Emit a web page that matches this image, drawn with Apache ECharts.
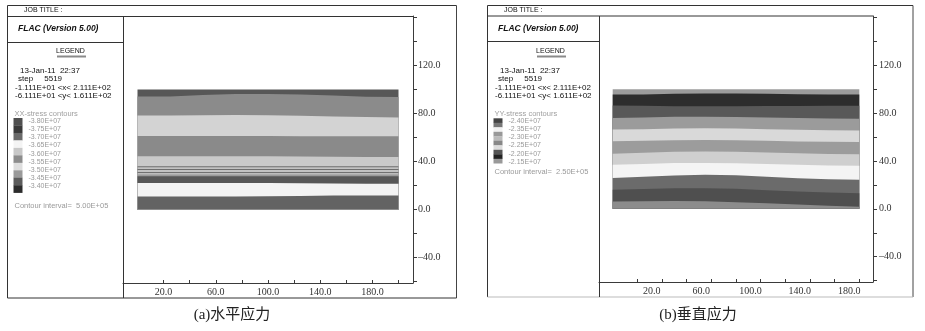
<!DOCTYPE html>
<html><head><meta charset="utf-8">
<script src="https://cdn.jsdelivr.net/npm/echarts@6/dist/echarts.min.js"></script>
<style>html,body{margin:0;padding:0;background:#fff}#c{width:925px;height:331px}</style>
</head><body><div id="c"></div>
<script>
// mesh x positions where band boundaries are sampled
const meshX = [0, 25, 50, 75, 100, 125, 150, 175, 200];

// (a) XX-stress band upper boundaries (top to bottom)
const xxTop    = [100, 100, 100, 100, 100, 100, 100, 100, 100];
const xxB01    = [94.2, 94.2, 95.4, 96.2, 96.2, 95.8, 95.0, 94.0, 93.7];
const xxB02    = [78.2, 78.4, 78.6, 78.8, 78.6, 78.0, 77.4, 77.0, 76.6];
const xxB03    = [61.2, 61.2, 61.2, 61.2, 61.2, 61.1, 61.0, 61.0, 61.0];
const xxB04    = [44.4, 44.4, 44.4, 44.4, 44.3, 44.2, 44.0, 43.8, 43.8];
const xxB05    = [36.1, 36.1, 36.1, 36.1, 36.1, 36.1, 36.1, 36.1, 36.1];
const xxB06    = [35.2, 35.2, 35.2, 35.2, 35.2, 35.2, 35.2, 35.2, 35.2];
const xxB07    = [33.8, 33.8, 33.8, 33.8, 33.8, 33.8, 33.8, 33.8, 33.8];
const xxB08    = [33.0, 33.0, 33.0, 33.0, 33.0, 33.0, 33.0, 33.0, 33.0];
const xxB09    = [31.3, 31.3, 31.3, 31.3, 31.3, 31.3, 31.3, 31.3, 31.3];
const xxB10    = [30.4, 30.4, 30.4, 30.4, 30.4, 30.4, 30.4, 30.4, 30.4];
const xxB11    = [29.1, 29.1, 29.1, 29.1, 29.1, 29.1, 29.1, 29.1, 29.1];
const xxB12    = [27.7, 27.7, 27.7, 27.7, 27.7, 27.7, 27.7, 27.7, 27.7];
const xxB13    = [22.1, 22.1, 22.1, 22.1, 22.1, 22.0, 21.7, 21.5, 21.5];
const xxB14    = [10.9, 10.9, 10.9, 10.9, 11.0, 11.4, 11.7, 11.7, 11.7];
const xxBounds = [xxTop, xxB01, xxB02, xxB03, xxB04, xxB05, xxB06, xxB07, xxB08, xxB09, xxB10, xxB11, xxB12, xxB13, xxB14];

// (b) YY-stress band upper boundaries (top to bottom)
const yyTop    = [100, 100, 100, 100, 100, 100, 100, 100, 100];
const yyB01    = [95.6, 95.6, 96.2, 96.4, 96.4, 96.2, 95.8, 95.6, 95.6];
const yyB02    = [86.4, 86.2, 85.8, 85.8, 85.8, 85.9, 86.0, 86.2, 86.2];
const yyB03    = [76.0, 76.4, 76.9, 76.9, 76.8, 76.3, 75.9, 75.4, 75.2];
const yyB04    = [66.2, 66.6, 67.1, 67.4, 67.2, 66.6, 66.0, 65.6, 65.4];
const yyB05    = [56.5, 56.9, 57.4, 57.6, 57.3, 56.8, 56.3, 56.0, 55.9];
const yyB06    = [46.1, 46.8, 47.6, 47.9, 47.6, 47.0, 46.4, 45.9, 45.6];
const yyB07    = [36.9, 37.5, 38.2, 38.4, 38.1, 37.4, 36.8, 36.3, 36.1];
const yyB08    = [25.7, 26.8, 27.9, 28.5, 28.0, 26.8, 25.6, 24.8, 24.3];
const yyB09    = [15.9, 16.6, 17.2, 17.3, 16.8, 15.6, 14.4, 13.6, 13.1];
const yyB10    = [6.1, 6.4, 6.6, 6.4, 5.6, 4.6, 3.6, 2.6, 1.8];
const yyBounds = [yyTop, yyB01, yyB02, yyB03, yyB04, yyB05, yyB06, yyB07, yyB08, yyB09, yyB10];

// axis ticks / labels
const xTickValues  = [20, 40, 60, 80, 100, 120, 140, 160, 180, 200];
const xLabelValues = [20, 60, 100, 140, 180];
const yTickValues  = [-60, -40, -20, 0, 20, 40, 60, 80, 100, 120, 140, 160];
const yLabelValues = [-40, 0, 40, 80, 120];
const xRange = [-11.11, 211.11];
const yRange = [-61.11, 161.11];

// legend texts
const xxLegendLabels = ['-3.80E+07','-3.75E+07','-3.70E+07','-3.65E+07','-3.60E+07','-3.55E+07','-3.50E+07','-3.45E+07','-3.40E+07'];
const yyLegendLabels = ['-2.40E+07','-2.35E+07','-2.30E+07','-2.25E+07','-2.20E+07','-2.15E+07'];
const captions = ['(a)水平应力', '(b)垂直应力'];

// ---- styles ----
const xxColors = ['#575757','#8b8b8b','#d3d3d3','#8a8a8a','#c9c9c9','#6e6e6e','#c2c2c2','#6e6e6e','#c2c2c2','#707070','#bdbdbd','#9a9a9a','#575757','#f3f3f3','#636363'];
const yyColors = ['#9c9c9c','#2d2d2d','#585858','#9b9b9b','#d9d9d9','#9c9c9c','#cfcfcf','#f4f4f4','#6b6b6b','#4f4f4f','#8c8c8c'];
const xxSwatch = ['#505050','#3a3a3a','#6a6a6a','#f4f4f4','#c8c8c8','#8c8c8c','#dedede','#9a9a9a','#5c5c5c','#2c2c2c'];
const yySwatch = ['#444444','#777777','#f2f2f2','#999999','#bbbbbb','#888888','#dddddd','#555555','#222222','#999999'];

const SANS = '"Liberation Sans", Arial, sans-serif';
const SERIF = '"Liberation Serif", "Times New Roman", serif';

function bandSeries(bounds, colors, gi) {
  return bounds.map((arr, i) => ({
    type: 'line', xAxisIndex: gi, yAxisIndex: gi, silent: true,
    symbol: 'none', showSymbol: false, smooth: false,
    data: meshX.map((x, k) => [x, arr[k]]),
    lineStyle: { width: 0, opacity: 0 },
    areaStyle: { color: colors[i], opacity: 1, origin: 0 },
    z: 2
  }));
}

function xAxis(gi, labelPad) {
  return {
    type: 'value', gridIndex: gi, position: 'bottom', min: xRange[0], max: xRange[1],
    splitLine: { show: false },
    axisLine: { show: true, onZero: false, lineStyle: { color: '#3a3a3a', width: 1 } },
    axisTick: { show: true, inside: true, length: 3, customValues: xTickValues, lineStyle: { color: '#3a3a3a' } },
    axisLabel: { show: true, customValues: xLabelValues, margin: 4, fontFamily: SERIF, fontSize: 10, color: '#333',
      padding: labelPad, formatter: v => v.toFixed(1) }
  };
}
function yAxis(gi, margin) {
  return {
    type: 'value', gridIndex: gi, position: 'right', min: yRange[0], max: yRange[1],
    splitLine: { show: false },
    axisLine: { show: true, onZero: false, lineStyle: { color: '#3a3a3a', width: 1 } },
    axisTick: { show: true, inside: false, length: 4, customValues: yTickValues, lineStyle: { color: '#3a3a3a' } },
    axisLabel: { show: true, customValues: yLabelValues, margin: margin, fontFamily: SERIF, fontSize: 10, color: '#333',
      formatter: v => (v < 0 ? '–' : '') + Math.abs(v).toFixed(1) }
  };
}

// ---- graphic helpers (frames + FLAC legend panel) ----
const G = [];
function txt(x, y, text, font, fill, align) {
  G.push({ type: 'text', x: x, y: y, silent: true, z: 10,
    style: { text: text, font: font, fill: fill || '#111', align: align || 'left', verticalAlign: 'middle' } });
}
function ln(x1, y1, x2, y2, color, w) {
  G.push({ type: 'line', silent: true, z: 10, shape: { x1, y1, x2, y2 }, style: { stroke: color || '#333', lineWidth: w || 1 } });
}
function rc(x, y, w, h, fill) {
  G.push({ type: 'rect', silent: true, z: 10, shape: { x, y, width: w, height: h }, style: { fill: fill } });
}

function panelFrame(L, R, B, plotL, plotR, hdrY, dividerY, bottomColor) {
  ln(L, 5.5, R, 5.5, '#333');
  ln(L, 5.5, L, B, '#333');
  ln(R, 5.5, R, B, '#444');
  ln(L, B, R, B, bottomColor);
  ln(L, hdrY, plotR, hdrY, '#333');
  ln(plotL, hdrY, plotL, B, '#333');
  ln(L, dividerY, plotL, dividerY, '#333');
}

function legendPanel(ox, title, labels, swatch, swTop, swH, intervalText, intervalY) {
  txt(ox + 24, 10.5, 'JOB TITLE :', '7px ' + SANS, '#111');
  txt(ox + 18, 28.5, 'FLAC (Version 5.00)', 'italic bold 8.5px ' + SANS, '#111');
  txt(ox + 70.5, 51.5, 'LEGEND', '7px ' + SANS, '#111', 'center');
  ln(ox + 57, 56.5, ox + 86, 56.5, '#8a8a8a', 2);
  txt(ox + 20, 70.7, '13-Jan-11  22:37', '8px ' + SANS, '#111');
  txt(ox + 18, 79.2, 'step     5519', '8px ' + SANS, '#111');
  txt(ox + 15, 87.6, '-1.111E+01 <x< 2.111E+02', '8px ' + SANS, '#111');
  txt(ox + 15, 96.0, '-6.111E+01 <y< 1.611E+02', '8px ' + SANS, '#111');
  txt(ox + 14.5, 113.5, title, '7.5px ' + SANS, '#a0a0a0');
  swatch.forEach((c, i) => rc(ox + 13.5, swTop + i * swH, 9, swH + 0.2, c));
  labels.forEach((t, i) => txt(ox + 28.5, 120.8 + i * 8.2, t, '7px ' + SANS, '#9a9a9a'));
  txt(ox + 14.5, intervalY, intervalText, '7.5px ' + SANS, '#9a9a9a');
}

panelFrame(7.5, 456.5, 298, 123.5, 413, 16.5, 42.5, '#333');
panelFrame(487.5, 913, 297, 599.5, 873, 16, 41.5, '#bbb');
legendPanel(0, 'XX-stress contours', xxLegendLabels, xxSwatch, 118, 7.47, 'Contour interval=  5.00E+05', 206);
legendPanel(480, 'YY-stress contours', yyLegendLabels, yySwatch, 118.3, 4.5, 'Contour interval=  2.50E+05', 171.5);
txt(232, 315.5, captions[0], '15px ' + SERIF + ', "Noto Sans CJK SC"', '#222', 'center');
txt(698, 315.5, captions[1], '15px ' + SERIF + ', "Noto Sans CJK SC"', '#222', 'center');

const chart = echarts.init(document.getElementById('c'), null, { renderer: 'canvas' });
chart.setOption({
  animation: false,
  backgroundColor: '#fff',
  grid: [
    { left: 123, top: 16, width: 290, height: 267, containLabel: false },
    { left: 599, top: 16, width: 274, height: 266, containLabel: false }
  ],
  xAxis: [xAxis(0, 0), xAxis(1, [0, 0, 0, 29])],
  yAxis: [yAxis(0, 5), yAxis(1, 6)],
  series: bandSeries(xxBounds, xxColors, 0).concat(bandSeries(yyBounds, yyColors, 1)),
  graphic: G
});
</script></body></html>
